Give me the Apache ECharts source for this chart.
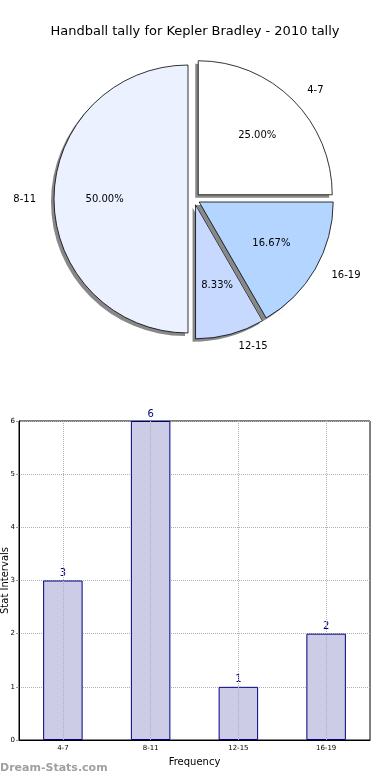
<!DOCTYPE html>
<html>
<head>
<meta charset="utf-8">
<script src="https://cdn.jsdelivr.net/npm/echarts@6/dist/echarts.min.js"></script>
<style>
html,body{margin:0;padding:0;background:#fff;}
#c{width:390px;height:780px;}
</style>
</head>
<body>
<div id="c"></div>
<script>
const titleText = 'Handball tally for Kepler Bradley - 2010 tally';
const categories = ['4-7', '8-11', '12-15', '16-19'];
const counts = [3, 6, 1, 2];
const sliceColors = ['#ffffff', '#ebf1ff', '#c7d9ff', '#b3d5ff'];
const yTicks = [0, 1, 2, 3, 4, 5, 6];

const FONT = 'DejaVu Sans';
const R = 134;
const CX = 194, CY = 199;

const chart = echarts.init(document.getElementById('c'), null, {renderer: 'canvas'});

const mkData = (withColor) => categories.map((c, i) => {
  const d = {name: c, value: counts[i], selected: true};
  if (withColor) d.itemStyle = {color: sliceColors[i]};
  return d;
});

const basePie = {
  type: 'pie',
  startAngle: 0,
  clockwise: false,
  selectedMode: 'multiple',
  selectedOffset: 6,
  avoidLabelOverlap: false,
  emphasis: {disabled: true}
};

chart.setOption({
  animation: false,
  backgroundColor: '#fff',
  textStyle: {fontFamily: FONT},
  title: {
    text: titleText, left: 'center', top: 20,
    textStyle: {fontFamily: FONT, fontSize: 13, fontWeight: 'normal', color: '#000'}
  },
  graphic: [{
    type: 'text', left: 0, top: 763,
    style: {text: 'Dream-Stats.com', fill: '#a0a0a0', font: 'bold 11px "DejaVu Sans"'}
  }],
  grid: {
    left: 19, right: 20, top: 421, height: 319,
    containLabel: false, outerBoundsMode: 'none',
    show: true, borderColor: '#000', borderWidth: 1, backgroundColor: 'transparent'
  },
  xAxis: {
    type: 'category', data: categories,
    axisLine: {lineStyle: {color: '#000'}},
    axisTick: {show: false},
    axisLabel: {fontFamily: FONT, fontSize: 7, color: '#000', margin: 5},
    splitLine: {show: false},
    name: 'Frequency', nameLocation: 'middle', nameGap: 17, nameMoveOverlap: false,
    nameTextStyle: {fontFamily: FONT, fontSize: 10, color: '#000'}
  },
  yAxis: {
    type: 'value', min: 0, max: 6, interval: 1,
    axisLine: {show: true, lineStyle: {color: '#000'}},
    axisTick: {show: true, length: 3, lineStyle: {color: '#999'}},
    axisLabel: {fontFamily: FONT, fontSize: 7, color: '#000', margin: 4,
      formatter: v => String(yTicks.indexOf(v) >= 0 ? v : '')},
    splitLine: {show: true, lineStyle: {type: 'dotted', color: '#b0b0b0'}},
    name: 'Stat Intervals', nameLocation: 'middle', nameGap: 9, nameMoveOverlap: false,
    nameTextStyle: {fontFamily: FONT, fontSize: 10, color: '#000'}
  },
  series: [
    Object.assign({}, basePie, {
      name: 'shadow',
      center: [CX - 3, CY + 3],
      radius: [0, R],
      silent: true,
      itemStyle: {color: '#888888', borderWidth: 0},
      select: {itemStyle: {color: '#888888', borderWidth: 0}},
      label: {show: false},
      labelLine: {show: false},
      data: mkData(false)
    }),
    Object.assign({}, basePie, {
      name: 'slices',
      center: [CX, CY],
      radius: [0, R],
      itemStyle: {borderColor: '#000', borderWidth: 0.8},
      select: {itemStyle: {borderColor: '#000', borderWidth: 0.8}},
      label: {
        show: true, position: 'outside', fontFamily: FONT, fontSize: 10, color: '#000',
        formatter: '{b}'
      },
      labelLine: {show: false, length: 13, length2: 0},
      data: mkData(true)
    }),
    Object.assign({}, basePie, {
      name: 'percent',
      center: [CX, CY],
      radius: [R * 0.2, R],
      silent: true,
      itemStyle: {color: 'rgba(0,0,0,0)', borderWidth: 0},
      select: {itemStyle: {color: 'rgba(0,0,0,0)', borderWidth: 0}},
      label: {
        show: true, position: 'inside', fontFamily: FONT, fontSize: 10, color: '#000',
        formatter: p => p.percent.toFixed(2) + '%'
      },
      labelLine: {show: false},
      data: mkData(false)
    }),
    {
      type: 'bar',
      data: counts,
      barWidth: '45%',
      itemStyle: {color: '#cccce6', borderColor: '#000080', borderWidth: 1},
      label: {show: true, position: 'top', distance: 2, fontFamily: FONT, fontSize: 10, color: '#000080'},
      emphasis: {disabled: true},
      markLine: {
        silent: true, symbol: 'none', label: {show: false},
        lineStyle: {type: 'dotted', color: '#b0b0b0', width: 1},
        data: categories.map(c => ({xAxis: c}))
      }
    }
  ]
});
</script>
</body>
</html>
